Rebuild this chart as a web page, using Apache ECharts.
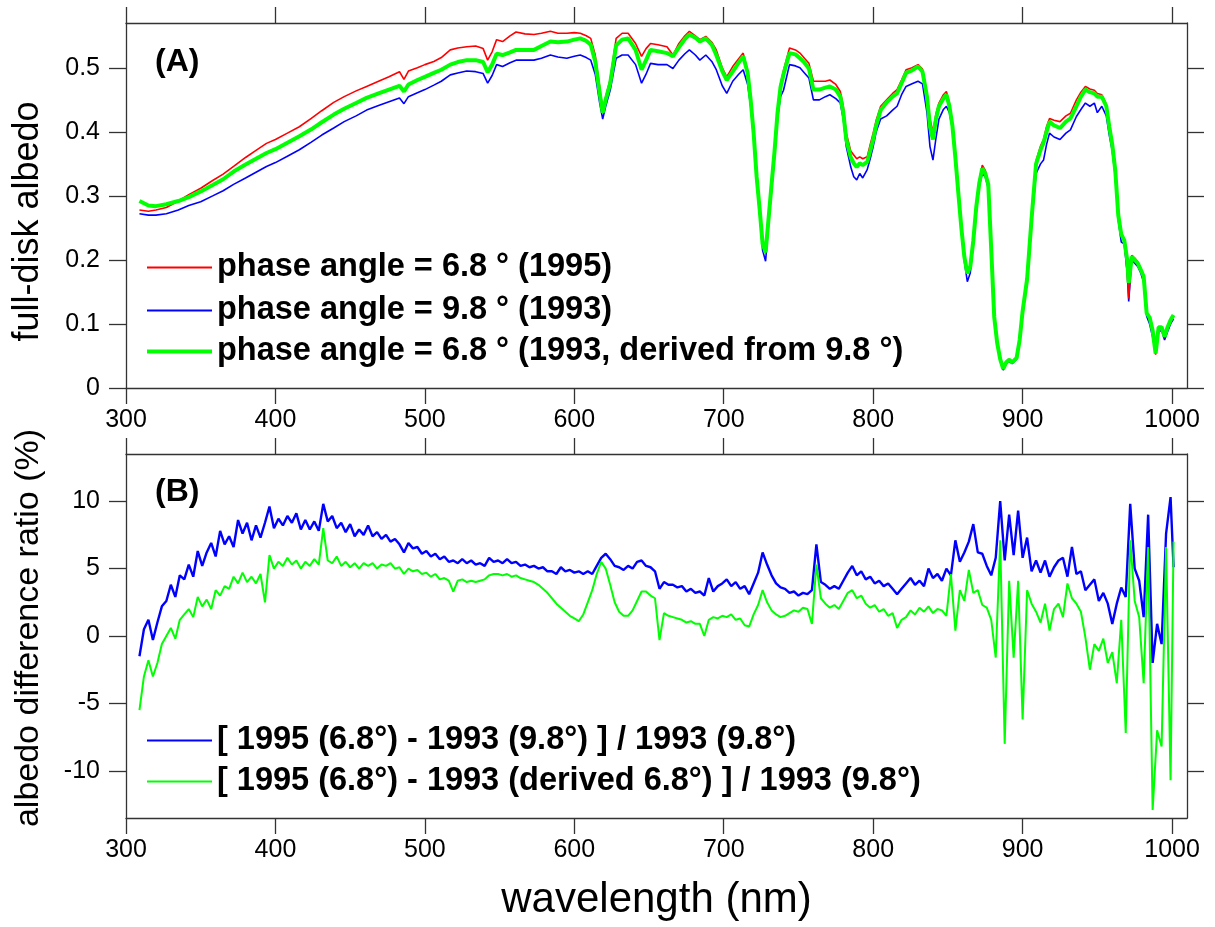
<!DOCTYPE html>
<html><head><meta charset="utf-8">
<script src="https://cdn.jsdelivr.net/npm/echarts@6/dist/echarts.min.js"></script>
<style>html,body{margin:0;padding:0;background:#fff}#c{width:1215px;height:927px}</style>
</head><body><div id="c"></div>
<script>
// ---- Panel A: full-disk albedo ----
const wlA = [
309,315,320,327,335,342,350,358,365,372,
380,387,394,400,408,416,424,431,439,446,
454,461,469,476,483,486,489,495,500,506,
511,517,522,528,534,539,542,545,548,552,
557,561,567,573,578,584,589,595,600,604,
608,611,614,617,619,621,624,628,632,636,
641,645,648,651,656,662,666,670,674,677,
681,684,688,692,695,699,702,706,710,713,
716,718,720,722,724,726,728,730,732,734,
736,738,740,744,748,751,754,757,760,764,
768,771,775,778,780,782,785,787,789,791,
793,796,798,800,802,805,809,813,816,819,
822,826,830,833,836,838,840,842,844,847,
849,851,853,855,857,859,861,863,865,867,
869,871,873,875,877,879,881,883,885,887,
889,891,893,896,898,900,903,906,909,912,
914,916,918,921,925,929,932,936,939,942,
945,948,950,953,956,958,960,962,964,966,
968,970,971,973,975,977,979,981,983,985,
987,989,991,993,995,997,999,1001];
const albedo1995 = [
0.278,0.276,0.278,0.282,0.292,0.302,0.312,0.324,0.334,0.346,
0.360,0.371,0.382,0.388,0.398,0.408,0.421,0.433,0.446,0.455,
0.464,0.471,0.479,0.486,0.494,0.482,0.495,0.500,0.505,0.510,
0.516,0.528,0.531,0.533,0.534,0.530,0.512,0.525,0.544,0.541,
0.550,0.556,0.553,0.552,0.554,0.557,0.554,0.554,0.555,0.554,
0.550,0.546,0.520,0.470,0.435,0.455,0.482,0.546,0.554,0.554,
0.538,0.518,0.530,0.538,0.536,0.533,0.520,0.538,0.550,0.557,
0.550,0.544,0.549,0.540,0.528,0.500,0.486,0.502,0.514,0.523,
0.495,0.452,0.400,0.332,0.282,0.227,0.214,0.267,0.320,0.372,
0.433,0.475,0.496,0.531,0.528,0.523,0.515,0.507,0.479,0.479,
0.479,0.481,0.474,0.463,0.440,0.398,0.370,0.364,0.358,0.361,
0.358,0.361,0.380,0.398,0.418,0.440,0.450,0.460,0.466,0.481,
0.497,0.500,0.505,0.498,0.460,0.420,0.400,0.428,0.445,0.458,
0.463,0.445,0.413,0.362,0.306,0.252,0.207,0.181,0.192,0.232,
0.286,0.324,0.348,0.340,0.320,0.218,0.112,0.071,0.046,0.031,
0.041,0.045,0.041,0.048,0.076,0.121,0.172,0.268,0.355,0.378,
0.388,0.408,0.421,0.418,0.416,0.425,0.429,0.450,0.462,0.471,
0.467,0.465,0.460,0.458,0.443,0.410,0.382,0.342,0.272,0.242,
0.233,0.180,0.140,0.207,0.203,0.197,0.187,0.176,0.118,0.108,
0.085,0.052,0.095,0.093,0.078,0.093,0.104,0.112];
const albedo1993 = [
0.272,0.270,0.270,0.272,0.278,0.285,0.291,0.300,0.308,0.318,
0.328,0.337,0.346,0.352,0.362,0.372,0.384,0.395,0.406,0.416,
0.425,0.434,0.441,0.447,0.453,0.444,0.455,0.461,0.466,0.473,
0.479,0.489,0.492,0.495,0.494,0.491,0.476,0.488,0.505,0.502,
0.508,0.512,0.512,0.512,0.515,0.520,0.517,0.515,0.518,0.520,
0.516,0.512,0.490,0.445,0.420,0.440,0.465,0.515,0.520,0.520,
0.505,0.476,0.490,0.507,0.505,0.505,0.499,0.512,0.522,0.528,
0.520,0.512,0.520,0.510,0.497,0.472,0.460,0.479,0.490,0.497,
0.474,0.440,0.390,0.322,0.272,0.215,0.198,0.255,0.308,0.360,
0.420,0.455,0.465,0.505,0.503,0.500,0.492,0.484,0.450,0.450,
0.455,0.458,0.452,0.445,0.420,0.377,0.345,0.330,0.325,0.335,
0.328,0.341,0.358,0.377,0.400,0.420,0.425,0.434,0.440,0.458,
0.471,0.475,0.479,0.475,0.430,0.377,0.356,0.390,0.420,0.435,
0.440,0.430,0.405,0.356,0.300,0.245,0.198,0.166,0.180,0.225,
0.278,0.315,0.335,0.330,0.312,0.212,0.108,0.068,0.043,0.028,
0.038,0.042,0.038,0.045,0.072,0.115,0.165,0.255,0.335,0.350,
0.356,0.380,0.398,0.392,0.388,0.398,0.403,0.424,0.435,0.445,
0.440,0.445,0.430,0.440,0.425,0.395,0.370,0.330,0.262,0.228,
0.225,0.180,0.135,0.200,0.195,0.190,0.180,0.165,0.112,0.100,
0.080,0.055,0.088,0.090,0.075,0.088,0.100,0.108];
const albedo1993Derived = [
0.292,0.285,0.284,0.287,0.292,0.298,0.307,0.317,0.326,0.338,
0.349,0.358,0.367,0.373,0.383,0.393,0.404,0.415,0.427,0.436,
0.445,0.453,0.460,0.466,0.472,0.463,0.474,0.481,0.486,0.492,
0.497,0.505,0.509,0.512,0.512,0.509,0.493,0.505,0.522,0.520,
0.524,0.528,0.528,0.528,0.534,0.541,0.540,0.541,0.544,0.546,
0.542,0.536,0.510,0.460,0.430,0.450,0.476,0.535,0.544,0.546,
0.528,0.497,0.512,0.528,0.526,0.523,0.518,0.532,0.545,0.552,
0.547,0.541,0.546,0.536,0.520,0.495,0.481,0.494,0.508,0.518,
0.492,0.450,0.398,0.330,0.280,0.225,0.212,0.265,0.318,0.370,
0.430,0.470,0.490,0.523,0.521,0.515,0.508,0.499,0.466,0.466,
0.469,0.471,0.466,0.455,0.430,0.388,0.360,0.351,0.345,0.351,
0.348,0.353,0.370,0.388,0.410,0.434,0.446,0.455,0.460,0.476,
0.492,0.496,0.502,0.494,0.455,0.408,0.388,0.420,0.440,0.452,
0.458,0.440,0.410,0.360,0.304,0.250,0.205,0.179,0.190,0.230,
0.283,0.320,0.343,0.335,0.318,0.216,0.111,0.070,0.045,0.030,
0.040,0.044,0.040,0.047,0.075,0.120,0.170,0.265,0.350,0.372,
0.383,0.400,0.416,0.410,0.406,0.416,0.421,0.440,0.455,0.466,
0.462,0.460,0.455,0.455,0.440,0.408,0.380,0.340,0.270,0.240,
0.231,0.200,0.164,0.205,0.200,0.195,0.185,0.174,0.117,0.110,
0.090,0.054,0.095,0.095,0.080,0.095,0.106,0.114];

// ---- Panel B: albedo difference ratio (%) ----
const wlB = [
309,312,315,318,321,324,327,330,333,336,
339,342,345,348,351,354,357,360,363,366,
369,372,375,378,381,384,387,390,393,396,
399,402,405,408,411,414,417,420,423,426,
429,432,435,438,441,444,447,450,453,456,
459,462,465,468,471,474,477,480,483,486,
489,492,495,498,501,504,507,510,513,516,
519,522,525,528,531,534,537,540,543,546,
549,552,555,558,561,564,567,570,573,576,
579,582,585,588,591,594,597,600,603,606,
609,612,615,618,621,624,627,630,633,636,
639,642,645,648,651,654,657,660,663,666,
669,672,675,678,681,684,687,690,693,696,
699,702,705,708,711,714,717,720,723,726,
729,732,735,738,741,744,747,750,753,756,
759,762,765,768,771,774,777,780,783,786,
789,792,795,798,801,804,807,810,813,816,
819,822,825,828,831,834,837,840,843,846,
849,852,855,858,861,864,867,870,873,876,
879,882,885,888,891,894,897,900,903,906,
909,912,915,918,921,924,927,930,933,936,
939,942,945,948,951,954,957,960,963,966,
969,972,975,978,981,984,987,990,993,996,
999,1001];
const ratioObserved = [
-1.5,0.5,1.2,-0.3,1.0,2.2,2.6,3.8,2.9,4.5,
4.2,5.3,4.4,6.3,5.2,6.2,6.9,5.9,7.8,6.8,
7.4,6.6,8.6,7.6,8.4,7.1,8.2,7.3,8.4,9.6,
8.0,8.7,8.2,8.9,8.4,9.1,7.9,8.6,7.9,8.5,
7.8,9.8,8.5,8.9,8.0,8.4,7.7,8.3,7.4,7.9,
7.5,8.2,7.4,7.7,7.2,7.5,7.0,7.2,6.8,6.2,
6.9,6.5,6.6,6.1,6.3,5.9,6.1,5.7,5.9,5.5,
5.6,5.4,5.7,5.4,5.6,5.3,5.4,5.2,5.8,5.5,
5.6,5.4,5.7,5.4,5.5,5.2,5.3,5.1,5.2,5.0,
5.1,4.8,4.8,4.6,5.1,4.8,4.9,4.7,4.8,4.6,
4.8,4.6,5.2,5.8,6.1,5.7,5.2,5.1,4.9,5.2,
5.0,5.5,5.6,5.2,5.1,4.8,3.5,4.0,3.8,3.8,
3.6,3.7,3.3,3.5,3.2,3.3,3.0,4.3,3.3,3.7,
3.9,4.2,3.7,4.0,3.5,3.7,3.1,3.9,4.7,6.2,
5.3,4.5,3.9,3.6,3.5,3.2,3.3,3.0,3.2,3.1,
3.4,6.8,4.0,3.8,3.5,3.7,3.5,4.1,4.7,5.2,
4.5,4.8,4.2,4.4,3.9,4.1,3.7,3.9,3.5,3.1,
3.5,3.9,4.3,3.8,4.1,3.7,5.0,4.3,4.6,4.1,
5.0,4.5,7.1,5.5,6.2,7.0,8.3,6.2,6.1,5.2,
4.5,5.8,10.0,5.6,9.0,6.0,9.3,5.8,7.3,4.8,
5.6,4.7,5.6,4.4,5.1,5.6,5.8,4.4,6.6,4.6,
4.8,3.4,3.8,4.2,2.6,3.2,2.4,0.9,2.4,3.6,
2.9,9.8,5.0,4.1,1.4,9.0,-2.0,0.9,-0.6,7.6,
10.3,5.1];
const ratioDerived = [
-5.5,-3.0,-1.8,-3.0,-2.0,-0.6,0.0,0.6,-0.2,1.2,
1.6,2.0,1.4,2.9,2.2,2.7,2.0,3.4,3.0,3.7,
3.5,4.4,3.9,4.7,4.0,4.4,3.9,4.6,2.5,6.0,
5.0,5.5,5.2,5.8,5.3,5.6,5.0,5.5,5.2,5.7,
5.3,8.0,5.6,5.4,5.9,5.2,5.5,5.1,5.4,5.0,
5.4,5.2,5.4,5.0,5.3,5.2,5.4,5.0,5.1,4.6,
5.0,4.8,4.9,4.6,4.7,4.4,4.6,4.2,4.3,4.1,
3.3,4.1,4.2,4.0,4.1,4.0,4.1,4.2,4.5,4.6,
4.6,4.5,4.6,4.4,4.5,4.3,4.2,4.1,4.0,3.8,
3.5,3.2,2.8,2.4,2.1,1.8,1.5,1.3,1.1,1.6,
2.5,3.4,4.6,5.5,5.0,3.8,2.5,1.8,1.5,1.5,
1.9,2.6,3.3,3.3,3.0,2.8,-0.3,1.7,1.5,1.4,
1.3,1.2,1.0,1.1,0.9,0.9,0.0,1.2,1.4,1.3,
1.5,1.4,1.6,1.2,1.3,0.8,0.7,1.6,2.3,3.4,
2.5,1.9,1.6,1.4,1.5,1.7,1.9,1.8,2.1,2.0,
0.9,5.3,2.8,2.4,2.1,2.3,2.0,2.6,3.2,3.4,
2.8,3.0,2.4,2.1,2.3,1.8,2.0,1.5,1.7,0.6,
1.2,1.4,1.9,1.6,2.1,1.8,2.2,1.7,2.0,1.9,
1.5,4.6,0.4,3.4,2.6,4.9,3.2,3.4,2.3,2.1,
1.2,-1.6,7.1,-8.0,4.1,-1.6,4.1,-6.2,3.4,2.4,
1.8,1.0,2.4,0.4,2.0,2.4,1.4,3.9,2.8,2.4,
1.8,-0.1,-2.5,-0.6,-1.1,-0.2,-2.0,-1.2,-3.5,1.2,
-7.2,7.1,2.6,1.4,-3.5,6.6,-12.9,-7.0,-8.2,6.6,
-10.7,7.0];

// ---- Tick labels ----
const xTicks = [300,400,500,600,700,800,900,1000];
const yTicksA = [0,0.1,0.2,0.3,0.4,0.5];
const yTicksB = [-10,-5,0,5,10];

const names = {
  r: 'phase angle = 6.8 ° (1995)',
  b: 'phase angle = 9.8 ° (1993)',
  g: 'phase angle = 6.8 ° (1993, derived from 9.8 °)',
  bb: '[ 1995 (6.8°) - 1993 (9.8°) ] / 1993 (9.8°)',
  gb: '[ 1995 (6.8°) - 1993 (derived 6.8°) ] / 1993 (9.8°)'
};

const FONT = '"Liberation Sans", Arial, Helvetica, sans-serif';
const LS = {color:'#333', width:1.3};
const plain = v => String(v);

function xAx(grid, pos, labels, name) {
  return {
    gridIndex: grid, type:'value', position: pos, min:300, max:1010,
    axisLine:{show:true, onZero:false, lineStyle:LS},
    axisTick:{show:true, length:16, customValues:xTicks, lineStyle:LS},
    axisLabel:{show:labels, customValues:xTicks, formatter:plain, fontSize:25, color:'#000', margin:20, fontFamily:FONT},
    splitLine:{show:false},
    name: name || '', nameLocation:'middle', nameGap:61,
    nameTextStyle:{fontSize:42, color:'#000', fontFamily:FONT}
  };
}
function yAx(grid, pos, labels, min, max, ticks, name, nameSize, namePad) {
  return {
    gridIndex: grid, type:'value', position: pos, min:min, max:max,
    axisLine:{show:true, onZero:false, lineStyle:LS},
    axisTick:{show:true, length:17, customValues:ticks, lineStyle:LS},
    axisLabel:{show:labels, customValues:ticks, formatter:plain, fontSize:25, color:'#000', margin:26, fontFamily:FONT},
    splitLine:{show:false},
    name: name || '', nameLocation:'middle', nameGap:80,
    nameTextStyle:{fontSize:nameSize || 34, color:'#000', fontFamily:FONT, padding:namePad || 0}
  };
}
function ln(name, xi, yi, xs, ys, color, width) {
  return {
    type:'line', name:name, xAxisIndex:xi, yAxisIndex:yi,
    data: xs.map((w,i)=>[w, ys[i]]),
    showSymbol:false, symbol:'none', animation:false,
    lineStyle:{color:color, width:width}, itemStyle:{color:color}
  };
}
function lg(name, top, h) {
  return {
    data:[name], left:147, top:top, padding:0, orient:'vertical',
    icon:'rect', itemWidth:65, itemHeight:h, selectedMode:false,
    textStyle:{fontSize:32.5, fontWeight:'bold', color:'#000', fontFamily:FONT}
  };
}

const chart = echarts.init(document.getElementById('c'), null, {renderer:'canvas'});
chart.setOption({
  backgroundColor:'#fff',
  animation:false,
  title:[
    {text:'(A)', left:155, top:46, padding:0, textStyle:{fontSize:32, fontWeight:'bold', color:'#000', fontFamily:FONT}},
    {text:'(B)', left:155, top:476, padding:0, textStyle:{fontSize:32, fontWeight:'bold', color:'#000', fontFamily:FONT}}
  ],
  legend:[
    lg(names.r, 251, 2),
    lg(names.b, 294, 2),
    lg(names.g, 335, 4),
    lg(names.bb, 724, 2),
    lg(names.gb, 765, 2)
  ],
  grid:[
    {left:126, top:23, width:1061, height:365},
    {left:126, top:454, width:1061, height:364}
  ],
  xAxis:[
    xAx(0,'bottom',true),
    xAx(0,'top',false),
    xAx(1,'bottom',true,'wavelength (nm)'),
    xAx(1,'top',false)
  ],
  yAxis:[
    yAx(0,'left',true,0,0.57,yTicksA,'full-disk albedo',36,[0,32,0,0]),
    yAx(0,'right',false,0,0.57,yTicksA),
    yAx(1,'left',true,-13.5,13.5,yTicksB,'albedo difference ratio (%)',34,[0,0,0,16]),
    yAx(1,'right',false,-13.5,13.5,yTicksB)
  ],
  series:[
    ln(names.b, 0, 0, wlA, albedo1993, '#0000ff', 1.6),
    ln(names.r, 0, 0, wlA, albedo1995, '#ff0000', 1.6),
    ln(names.g, 0, 0, wlA, albedo1993Derived, '#00ff00', 4),
    ln(names.bb, 2, 2, wlB, ratioObserved, '#0000ff', 2.4),
    ln(names.gb, 2, 2, wlB, ratioDerived, '#00ff00', 2)
  ]
});
</script></body></html>
